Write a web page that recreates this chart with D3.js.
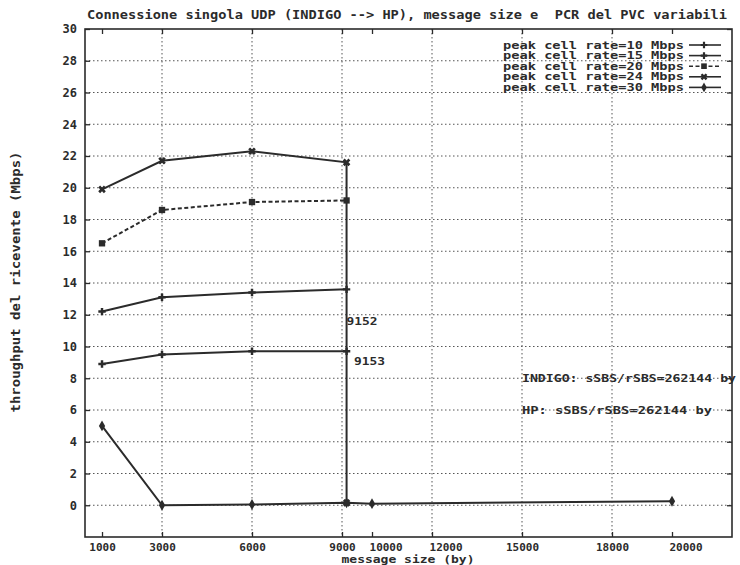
<!DOCTYPE html>
<html>
<head>
<meta charset="utf-8">
<script src="https://cdn.jsdelivr.net/npm/d3@7"></script>
<style>
  body { margin: 0; background: #fff; }
  svg { display: block; }
</style>
</head>
<body>
<svg id="chart" width="740" height="565"></svg>
<script>
// message sizes (by) and throughput (Mbps)
const sizes10 = [1000, 3000, 6000, 9153];
const rate10 = [8.9, 9.5, 9.7, 9.7];
const sizes15 = [1000, 3000, 6000, 9152];
const rate15 = [12.2, 13.1, 13.4, 13.6];
const sizes20 = [1000, 3000, 6000, 9152];
const rate20 = [16.5, 18.6, 19.1, 19.2];
const sizes24 = [1000, 3000, 6000, 9152, 9153];
const rate24 = [19.9, 21.7, 22.3, 21.6, 0.15];
const sizes30 = [1000, 3000, 6000, 9152, 10000, 20000];
const rate30 = [5.0, 0, 0.05, 0.15, 0.1, 0.25];

const seriesNames = ["peak cell rate=10 Mbps", "peak cell rate=15 Mbps", "peak cell rate=20 Mbps",
                     "peak cell rate=24 Mbps", "peak cell rate=30 Mbps"];

const xTicks = [1000, 3000, 6000, 9000, 10000, 12000, 15000, 18000, 20000];
const xGrid = [3000, 6000, 9000, 12000, 15000, 18000];
const yTicks = d3.range(0, 31, 2);

const titleText = "Connessione singola UDP (INDIGO --> HP), message size e  PCR del PVC variabili";
const xLabel = "message size (by)";
const yLabel = "throughput del ricevente (Mbps)";
const notes = [
    { text: "9152", x: 9152, y: 11.6, len: 31 },
    { text: "9153", x: 9400, y: 9.1, len: 31 },
    { text: "INDIGO: sSBS/rSBS=262144 by", x: 15000, y: 8, len: 214 },
    { text: "HP: sSBS/rSBS=262144 by", x: 15000, y: 6, len: 190 }
];

const svg = d3.select("#chart");
const margin = { top: 29, right: 8, bottom: 28, left: 85 },
      width = +svg.attr("width") - margin.left - margin.right,
      height = +svg.attr("height") - margin.top - margin.bottom;

const ink = "#2b2b2b";
const font = "'DejaVu Sans Mono', 'Liberation Mono', monospace";

const g = svg.append("g").attr("transform", `translate(${margin.left},${margin.top})`);

const x = d3.scaleLinear().domain([433, 22000]).range([0, width]);
const y = d3.scaleLinear().domain([-2, 30]).range([height, 0]);

// grid
g.append("g").selectAll("line").data(yTicks.filter(d => d < 30)).enter().append("line")
    .attr("x1", 0).attr("x2", width)
    .attr("y1", d => y(d)).attr("y2", d => y(d))
    .attr("stroke", "#555").attr("stroke-width", 1).attr("stroke-dasharray", "1.5,2.5");
g.append("g").selectAll("line").data(xGrid).enter().append("line")
    .attr("x1", d => x(d)).attr("x2", d => x(d))
    .attr("y1", 0).attr("y2", height)
    .attr("stroke", "#555").attr("stroke-width", 1).attr("stroke-dasharray", "1.5,2.5");

// Axes
function styleAxis(sel) {
    sel.select(".domain").remove();
    sel.selectAll("line").attr("stroke", ink).attr("stroke-width", 1.3);
    sel.selectAll("text").attr("fill", ink).attr("font-family", font)
        .attr("font-size", 12).attr("font-weight", "bold");
}
g.append("g").call(d3.axisLeft(y).tickValues(yTicks).tickSize(-5).tickPadding(8)).call(styleAxis);
g.append("g").attr("transform", `translate(${width},0)`)
    .call(d3.axisRight(y).tickValues(yTicks).tickSize(-5).tickFormat("")).call(styleAxis);
const xAxis = g.append("g").attr("transform", `translate(0,${height})`)
    .call(d3.axisBottom(x).tickValues(xTicks).tickSize(-5).tickPadding(6).tickFormat(d3.format("d")))
    .call(styleAxis);
xAxis.selectAll(".tick text").attr("font-size", 11);
xAxis.selectAll(".tick text")
    .filter(d => d === 10000 || d === 12000 || d === 20000)
    .attr("text-anchor", "start").attr("dx", -3);
g.append("g").call(d3.axisTop(x).tickValues(xTicks).tickSize(-5).tickFormat("")).call(styleAxis);

// border
g.append("rect").attr("width", width).attr("height", height)
    .attr("fill", "none").attr("stroke", ink).attr("stroke-width", 1.6);

// Axis labels and title
svg.append("text").attr("x", 87).attr("y", 19).attr("textLength", 640).attr("lengthAdjust", "spacingAndGlyphs")
    .style("white-space", "pre")
    .attr("font-family", font).attr("font-size", 12).attr("font-weight", "bold").attr("fill", ink).text(titleText);
svg.append("text").attr("x", 408).attr("y", 563).attr("text-anchor", "middle")
    .attr("textLength", 133).attr("lengthAdjust", "spacingAndGlyphs")
    .attr("font-family", font).attr("font-size", 10).attr("font-weight", "bold").attr("fill", ink).text(xLabel);
svg.append("text").attr("transform", "translate(20,282) rotate(-90)").attr("text-anchor", "middle")
    .attr("textLength", 261).attr("lengthAdjust", "spacingAndGlyphs")
    .attr("font-family", font).attr("font-size", 12).attr("font-weight", "bold").attr("fill", ink).text(yLabel);

// series
const series = [
    { name: seriesNames[0], xs: sizes10, ys: rate10, dash: null, sym: d3.symbolCross, rot: 0, size: 30 },
    { name: seriesNames[1], xs: sizes15, ys: rate15, dash: null, sym: d3.symbolCross, rot: 0, size: 30 },
    { name: seriesNames[2], xs: sizes20, ys: rate20, dash: "4,2.5", sym: d3.symbolSquare, rot: 0, size: 40 },
    { name: seriesNames[3], xs: sizes24, ys: rate24, dash: null, sym: d3.symbolCross, rot: 45, size: 36 },
    { name: seriesNames[4], xs: sizes30, ys: rate30, dash: null, sym: d3.symbolDiamond, rot: 0, size: 34 }
];

const line = d3.line().x(d => x(d[0])).y(d => y(d[1]));
series.forEach(s => {
    const pts = s.xs.map((v, i) => [v, s.ys[i]]);
    g.append("path").datum(pts).attr("fill", "none").attr("stroke", ink)
        .attr("stroke-width", 2).attr("stroke-dasharray", s.dash).attr("d", line);
    g.selectAll(null).data(pts).enter().append("path")
        .attr("transform", d => `translate(${x(d[0])},${y(d[1])}) rotate(${s.rot})`)
        .attr("d", d3.symbol().type(s.sym).size(s.size))
        .attr("fill", ink);
});

// annotations
g.selectAll(".note").data(notes).enter().append("text")
    .attr("class", "note")
    .attr("x", d => x(d.x)).attr("y", d => y(d.y) + 4)
    .attr("textLength", d => d.len).attr("lengthAdjust", "spacingAndGlyphs")
    .attr("font-family", font).attr("font-size", 11).attr("font-weight", "bold").attr("fill", ink)
    .text(d => d.text);

// Legend
const legend = svg.append("g").selectAll("g").data(series).enter().append("g")
    .attr("transform", (d, i) => `translate(0,${45 + i * 10.6})`);
legend.append("text").attr("x", 684).attr("y", 3.5).attr("text-anchor", "end")
    .attr("textLength", 181).attr("lengthAdjust", "spacingAndGlyphs")
    .attr("font-family", font).attr("font-size", 10).attr("font-weight", "bold").attr("fill", ink)
    .text(d => d.name);
legend.append("line").attr("x1", 689).attr("x2", 721).attr("y1", 0).attr("y2", 0)
    .attr("stroke", ink).attr("stroke-width", 1.6).attr("stroke-dasharray", d => d.dash);
legend.append("path")
    .attr("transform", d => `translate(704,0) rotate(${d.rot})`)
    .attr("d", d => d3.symbol().type(d.sym).size(d.size * 0.8)())
    .attr("fill", ink);
</script>
</body>
</html>
